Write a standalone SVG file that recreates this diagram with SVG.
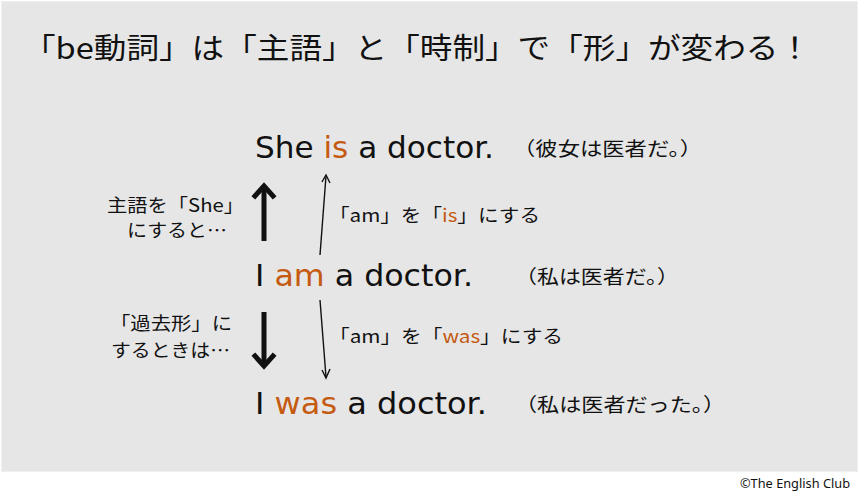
<svg xmlns="http://www.w3.org/2000/svg" width="860" height="499" viewBox="0 0 860 499">
<style>
.jp{font-family:"Noto Sans CJK JP","Noto Sans",sans-serif;fill:#111}
.en{font-family:"DejaVu Sans","Verdana",sans-serif;font-size:30.5px;fill:#111}
.or{fill:#C55A11}
.thin{stroke:#111;stroke-width:1.4;fill:none}
.thick{stroke:#111;stroke-width:5;fill:none}
</style>
<rect x="0" y="0" width="860" height="499" fill="#ffffff"/>
<rect x="1.5" y="1.5" width="856" height="470" fill="#e6e6e6" stroke="#efefef" stroke-width="1"/>
<g id="title">
<text class="jp" x="23" y="59" font-size="29" textLength="788" lengthAdjust="spacingAndGlyphs">「be動詞」は「主語」と「時制」で「形」が変わる！</text>
</g>
<g id="she">
<text class="en" x="255" y="158" textLength="239" lengthAdjust="spacingAndGlyphs">She <tspan class="or">is</tspan> a doctor.</text>
<text class="jp" x="513" y="156" font-size="19" textLength="189" lengthAdjust="spacingAndGlyphs">（彼女は医者だ。）</text>
</g>
<g id="am">
<text class="en" x="255" y="286" textLength="218" lengthAdjust="spacingAndGlyphs">I <tspan class="or">am</tspan> a doctor.</text>
<text class="jp" x="515" y="284" font-size="19" textLength="164" lengthAdjust="spacingAndGlyphs">（私は医者だ。）</text>
</g>
<g id="was">
<text class="en" x="255" y="414" textLength="232" lengthAdjust="spacingAndGlyphs">I <tspan class="or">was</tspan> a doctor.</text>
<text class="jp" x="515" y="412" font-size="19" textLength="210" lengthAdjust="spacingAndGlyphs">（私は医者だった。）</text>
</g>
<g id="label-she">
<text class="jp" x="107" y="212" font-size="18" textLength="137" lengthAdjust="spacingAndGlyphs">主語を「She」</text>
<text class="jp" x="127" y="237" font-size="18" textLength="100" lengthAdjust="spacingAndGlyphs">にすると…</text>
</g>
<g id="label-past">
<text class="jp" x="110" y="330" font-size="18" textLength="122" lengthAdjust="spacingAndGlyphs">「過去形」に</text>
<text class="jp" x="111" y="357" font-size="18" textLength="119" lengthAdjust="spacingAndGlyphs">するときは…</text>
</g>
<g id="label-is">
<text class="jp" x="329" y="222" font-size="18" textLength="211" lengthAdjust="spacingAndGlyphs">「am」を「<tspan class="or">is</tspan>」にする</text>
</g>
<g id="label-was">
<text class="jp" x="329" y="343" font-size="18" textLength="234" lengthAdjust="spacingAndGlyphs">「am」を「<tspan class="or">was</tspan>」にする</text>
</g>
<g id="connectors">
<line class="thick" x1="264" y1="241" x2="264" y2="188"/>
<polyline class="thick" points="255,196 264,186 273,196" stroke-linecap="square"/>
<line class="thick" x1="264" y1="312" x2="264" y2="364"/>
<polyline class="thick" points="255,356 264,366 273,356" stroke-linecap="square"/>
<line class="thin" x1="320" y1="255" x2="326" y2="176"/>
<polyline class="thin" points="322,182 326,175 330,183"/>
<line class="thin" x1="320" y1="300" x2="326" y2="377"/>
<polyline class="thin" points="322,370 326,378 330,369"/>
</g>
<text x="850" y="488" font-family="'Noto Sans',sans-serif" font-size="12" text-anchor="end" textLength="110" lengthAdjust="spacingAndGlyphs" fill="#111">©The English Club</text>
</svg>
